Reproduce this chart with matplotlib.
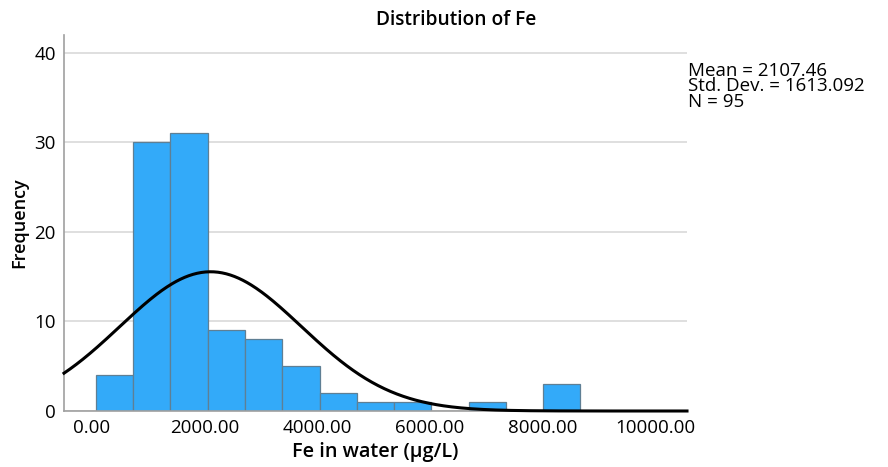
import numpy as np
import matplotlib
matplotlib.use("Agg")
import matplotlib.pyplot as plt

# Data
bin_start = 70.0
bin_width = 662.0
counts = [4, 30, 31, 9, 8, 5, 2, 1, 1, 0, 1, 0, 3]
mean = 2107.46
std = 1613.092
n = 95
xticks = [0, 2000, 4000, 6000, 8000, 10000]
xticklabels = ["0.00", "2000.00", "4000.00", "6000.00", "8000.00", "10000.00"]
yticks = [0, 10, 20, 30, 40]

plt.rcParams['font.family'] = ['Open Sans', 'DejaVu Sans']

fig = plt.figure(figsize=(8.88, 4.67), dpi=100)
ax = fig.add_axes([64/888, 1-411/467, (687-64)/888, (411-35)/467])

edges = bin_start + bin_width * np.arange(len(counts) + 1)
ax.bar(edges[:-1], counts, width=bin_width, align='edge',
       color='#33aaf9', edgecolor='#5f7f94', linewidth=0.9, zorder=2)

xlim = (-497, 10570)
xs = np.linspace(xlim[0], xlim[1], 600)
ys = n * bin_width / (std * np.sqrt(2*np.pi)) * np.exp(-0.5*((xs-mean)/std)**2)
ax.plot(xs, ys, color='black', linewidth=2.2, zorder=3, clip_on=False)

ax.set_xlim(*xlim)
ax.set_ylim(0, 42)
ax.set_xticks(xticks)
ax.set_xticklabels(xticklabels)
ax.set_yticks(yticks)
ax.tick_params(length=0, labelsize=13.5, colors='black', pad=6)
ax.yaxis.grid(True, color='#d9d9d9', linewidth=1.2, zorder=0)
ax.set_axisbelow(True)
for s in ['top', 'right']:
    ax.spines[s].set_visible(False)
for s in ['left', 'bottom']:
    ax.spines[s].set_color('#a0a0a0')
    ax.spines[s].set_linewidth(1.2)

ax.set_xlabel("Fe in water (µg/L)", fontsize=14.3, fontweight='semibold', labelpad=3)
ax.set_ylabel("Frequency", fontsize=13, fontweight='semibold', labelpad=4)

fig.text(456/888, 1-20/467, "Distribution of Fe", ha='center', va='center',
         fontsize=13.8, fontweight='semibold')
fig.text(688/888, 1-62/467, "Mean = 2107.46\nStd. Dev. = 1613.092\nN = 95",
         ha='left', va='top', fontsize=13.5, linespacing=0.82)

fig.savefig("out.png", dpi=100)
